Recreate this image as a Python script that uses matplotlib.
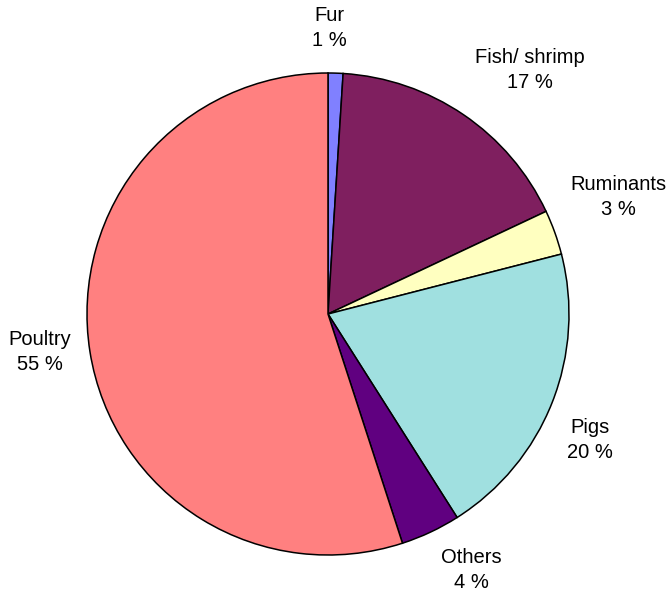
import matplotlib
matplotlib.use("Agg")
import matplotlib.pyplot as plt

# 数据
categories = ['Fur', 'Fish/ shrimp', 'Ruminants', 'Pigs', 'Others', 'Poultry']
shares = [1, 17, 3, 20, 4, 55]
colors = ['#8080FF', '#7F1F5F', '#FFFFC0', '#A0E0E0', '#600080', '#FF8080']

# 标签位置 (像素)
label_pos = [(329, 28), (530, 70), (618, 197), (590, 440), (471, 570), (40, 352)]

plt.rcParams['font.family'] = ['Liberation Sans', 'DejaVu Sans']

fig = plt.figure(figsize=(6.71, 5.97), dpi=100)
ax = fig.add_axes([0, 0, 1, 1])

# y轴反转，所以角度方向也反过来：从顶部开始顺时针
ax.pie(shares, colors=colors, startangle=-90, counterclock=True,
       center=(328, 314), radius=241, frame=True,
       wedgeprops=dict(edgecolor='black', linewidth=1.1))
ax.set_xlim(0, 671)
ax.set_ylim(597, 0)
ax.set_aspect('equal')
ax.axis('off')

for (x, y), name, v in zip(label_pos, categories, shares):
    ax.text(x, y, '{}\n{} %'.format(name, v), ha='center', va='center',
            fontsize=14.5, linespacing=1.45)

fig.savefig('out.png', dpi=100)
